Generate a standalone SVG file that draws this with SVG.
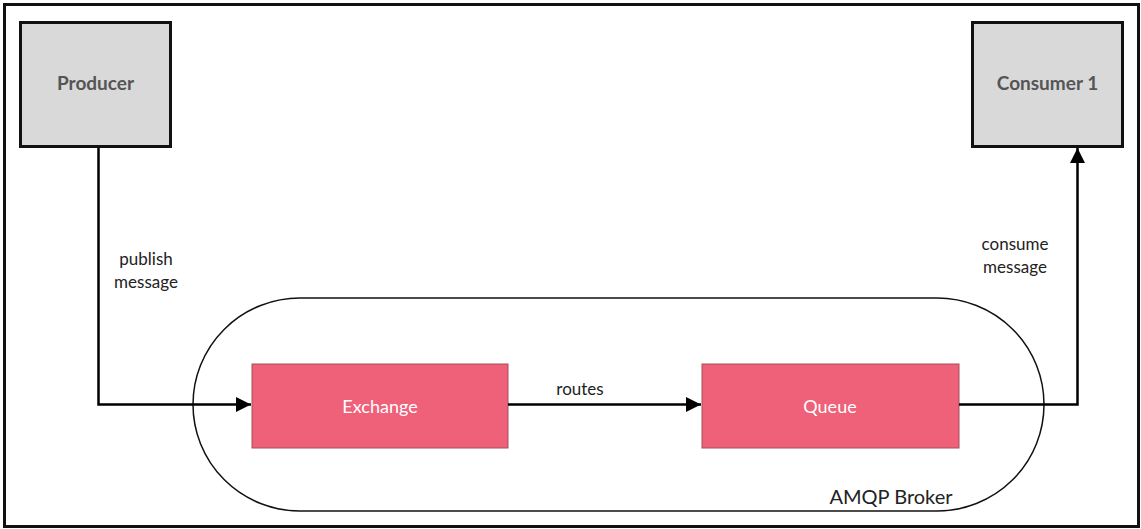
<svg xmlns="http://www.w3.org/2000/svg" width="1141" height="529" viewBox="0 0 1141 529">
<defs>
<style>
.box{fill:#d9d9d9;stroke:#111;stroke-width:3}
.pink{fill:#ef6079;stroke:#a0505a;stroke-width:1}
.lbl{font-family:"Lato","Liberation Sans",sans-serif;font-size:17px;fill:#222;text-anchor:middle}
.title{font-family:"Lato","Liberation Sans",sans-serif;font-size:19px;font-weight:bold;fill:#555;text-anchor:middle}
.white{font-family:"Lato","Liberation Sans",sans-serif;font-size:18px;fill:#fff;text-anchor:middle}
.conn{fill:none;stroke:#000;stroke-width:2.5}
</style>
<marker id="arr" viewBox="0 0 10 10" refX="10" refY="5" markerWidth="6" markerHeight="6" markerUnits="strokeWidth" orient="auto">
<path d="M0,0 L10,5 L0,10 z" fill="#000"/>
</marker>
</defs>
<rect width="1141" height="529" fill="#fff"/>
<rect x="4.5" y="4.5" width="1134" height="522" fill="none" stroke="#111" stroke-width="3"/>
<g id="broker">
<rect x="193" y="298" width="851" height="213" rx="107" ry="106.5" fill="none" stroke="#111" stroke-width="1.5"/>
<text x="891" y="504" class="lbl" style="font-size:20px">AMQP Broker</text>
</g>
<g id="producer">
<rect x="20.5" y="22.5" width="150" height="124" class="box"/>
<text x="95.5" y="90" class="title">Producer</text>
</g>
<g id="consumer1">
<rect x="972.5" y="22.5" width="150" height="124" class="box"/>
<text x="1047.5" y="90" class="title">Consumer 1</text>
</g>
<g id="exchange">
<rect x="252" y="364" width="256" height="84" class="pink"/>
<text x="380" y="413" class="white">Exchange</text>
</g>
<g id="queue">
<rect x="702" y="364" width="257" height="84" class="pink"/>
<text x="830" y="413" class="white">Queue</text>
</g>
<g id="connectors">
<path d="M98.5,148 V404.5 H251" class="conn" marker-end="url(#arr)"/>
<path d="M508,404.5 H701" class="conn" marker-end="url(#arr)"/>
<path d="M959,404.5 H1077.5 V148" class="conn" marker-end="url(#arr)"/>
<text x="146" y="265" class="lbl">publish</text>
<text x="146" y="288" class="lbl">message</text>
<text x="580" y="395" class="lbl">routes</text>
<text x="1015" y="250" class="lbl">consume</text>
<text x="1015" y="273" class="lbl">message</text>
</g>
</svg>
